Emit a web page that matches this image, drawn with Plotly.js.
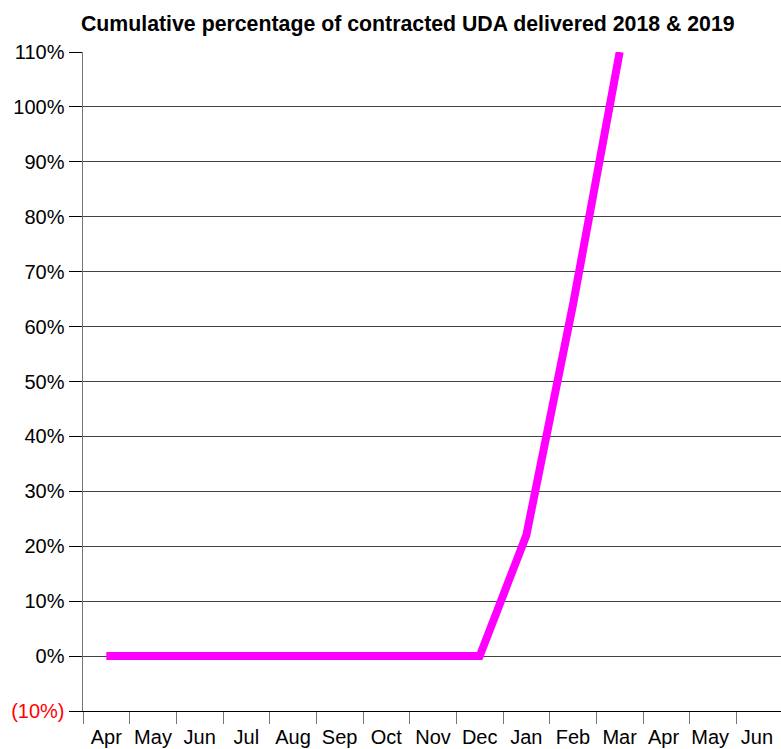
<!DOCTYPE html>
<html>
<head>
<meta charset="utf-8">
<script src="https://cdn.plot.ly/plotly-3.0.1.min.js"></script>
<style>html,body{margin:0;padding:0;overflow:hidden;background:#fff;}</style>
</head>
<body>
<div id="chart"></div>
<script>
var months = ["Apr","May","Jun","Jul","Aug","Sep","Oct","Nov","Dec","Jan","Feb","Mar","Apr ","May ","Jun "];
var seriesMonths = ["Apr","May","Jun","Jul","Aug","Sep","Oct","Nov","Dec","Jan","Feb","Mar"];
var cumulativePct = [0,0,0,0,0,0,0,0,0,22,64,110];
var yTickVals = [-10,0,10,20,30,40,50,60,70,80,90,100,110];
var yTickText = ['<span style="color:#ff0000">(10%)</span>',"0%","10%","20%","30%","40%","50%","60%","70%","80%","90%","100%","110%"];

var trace = {
  x: seriesMonths,
  y: cumulativePct,
  type: "scatter",
  mode: "lines",
  line: {color: "#ff00ff", width: 8},
  hoverinfo: "skip"
};

var layout = {
  width: 783,
  height: 749,
  margin: {l: 83, r: 0, t: 52, b: 38},
  paper_bgcolor: "#ffffff",
  plot_bgcolor: "#ffffff",
  font: {family: "Liberation Sans, Arial, sans-serif", color: "#000000", size: 20},
  showlegend: false,
  title: {
    text: "<b>Cumulative percentage of contracted UDA delivered 2018 & 2019</b>",
    font: {family: "Liberation Sans, Arial, sans-serif", size: 21.3, color: "#000000"},
    x: 0.464, xref: "paper", xanchor: "center",
    y: 0.969, yref: "container", yanchor: "middle"
  },
  xaxis: {
    type: "category",
    categoryorder: "array",
    categoryarray: months,
    range: [-0.5, 14.5],
    tickson: "boundaries",
    tickangle: 0,
    ticks: "outside",
    ticklen: 12,
    tickcolor: "#777777",
    tickwidth: 1,
    ticklabelstandoff: 8,
    showgrid: false,
    showline: true,
    linecolor: "#000000",
    linewidth: 1,
    tickfont: {size: 20, color: "#000000"},
    automargin: false,
    fixedrange: true
  },
  yaxis: {
    range: [-10, 110],
    tickvals: yTickVals,
    ticktext: yTickText,
    ticks: "outside",
    ticklen: 13,
    tickcolor: "#000000",
    tickwidth: 1,
    showgrid: true,
    gridcolor: "#444444",
    gridwidth: 1,
    zeroline: false,
    showline: true,
    linecolor: "#777777",
    linewidth: 1.5,
    tickfont: {size: 20, color: "#000000"},
    automargin: false,
    fixedrange: true
  }
};

Plotly.newPlot("chart", [trace], layout, {displayModeBar: false, staticPlot: true});
</script>
</body>
</html>
